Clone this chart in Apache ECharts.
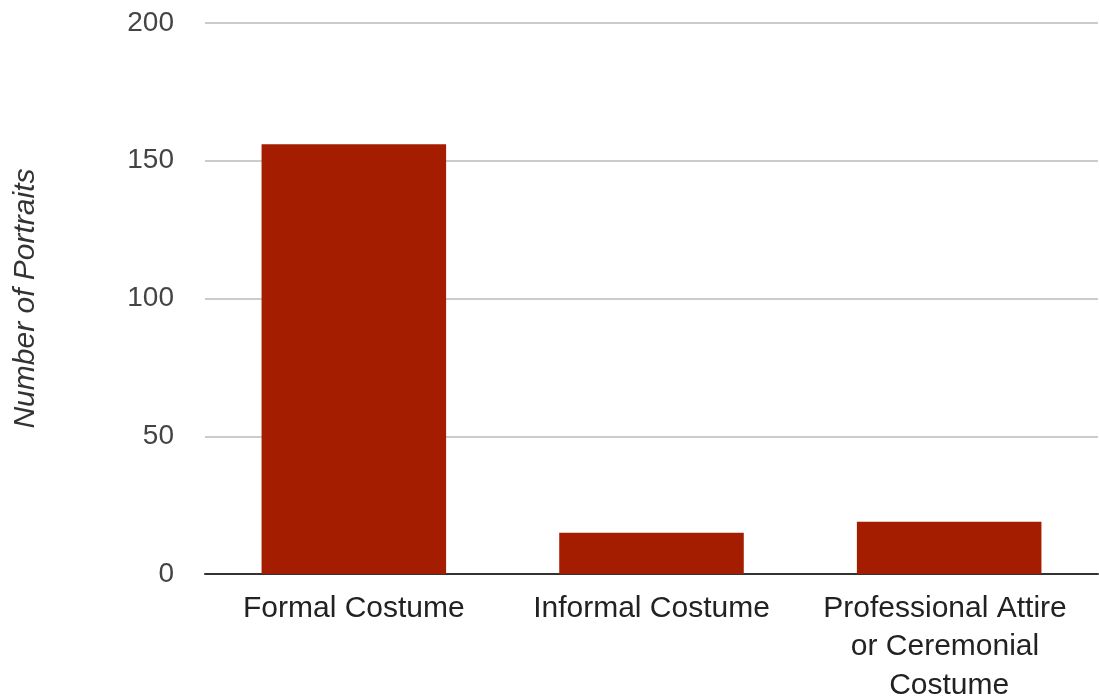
<!DOCTYPE html>
<html>
<head>
<meta charset="utf-8">
<script src="https://cdn.jsdelivr.net/npm/echarts@6/dist/echarts.min.js"></script>
<style>
html,body{margin:0;padding:0;background:#fff;}
#chart{width:1099px;height:700px;}
</style>
</head>
<body>
<div id="chart"></div>
<script>
const categories = ["Formal Costume", "Informal Costume", "Professional Attire or Ceremonial Costume"];
const portraitCounts = [156, 15, 19];
const yTicks = [0, 50, 100, 150, 200];

const chart = echarts.init(document.getElementById('chart'), null, {renderer: 'canvas'});
chart.setOption({
  animation: false,
  backgroundColor: '#ffffff',
  grid: {left: 205, right: 1, top: 23, bottom: 126, containLabel: false, outerBoundsMode: 'none'},
  xAxis: {
    type: 'category',
    data: categories,
    axisLine: {show: true, lineStyle: {color: '#333333', width: 2}},
    axisTick: {show: false},
    axisLabel: {
      color: '#222222',
      fontFamily: 'Liberation Sans, Arial, sans-serif',
      fontSize: 30,
      margin: 15,
      lineHeight: 38.5,
      width: 258,
      overflow: 'break',
      interval: 0
    }
  },
  yAxis: {
    type: 'value',
    min: yTicks[0],
    max: yTicks[yTicks.length - 1],
    interval: 50,
    name: 'Number of Portraits',
    nameLocation: 'middle',
    nameGap: 164,
    nameTextStyle: {
      color: '#333333',
      fontStyle: 'italic',
      fontFamily: 'Liberation Sans, Arial, sans-serif',
      fontSize: 30
    },
    axisLine: {show: false},
    axisTick: {show: false},
    splitLine: {lineStyle: {color: '#cccccc', width: 2}},
    axisLabel: {
      color: '#444444',
      fontFamily: 'Liberation Sans, Arial, sans-serif',
      fontSize: 28,
      margin: 31
    }
  },
  series: [{
    type: 'bar',
    data: portraitCounts,
    barCategoryGap: '38%',
    itemStyle: {color: '#a51d00'}
  }]
});
</script>
</body>
</html>
